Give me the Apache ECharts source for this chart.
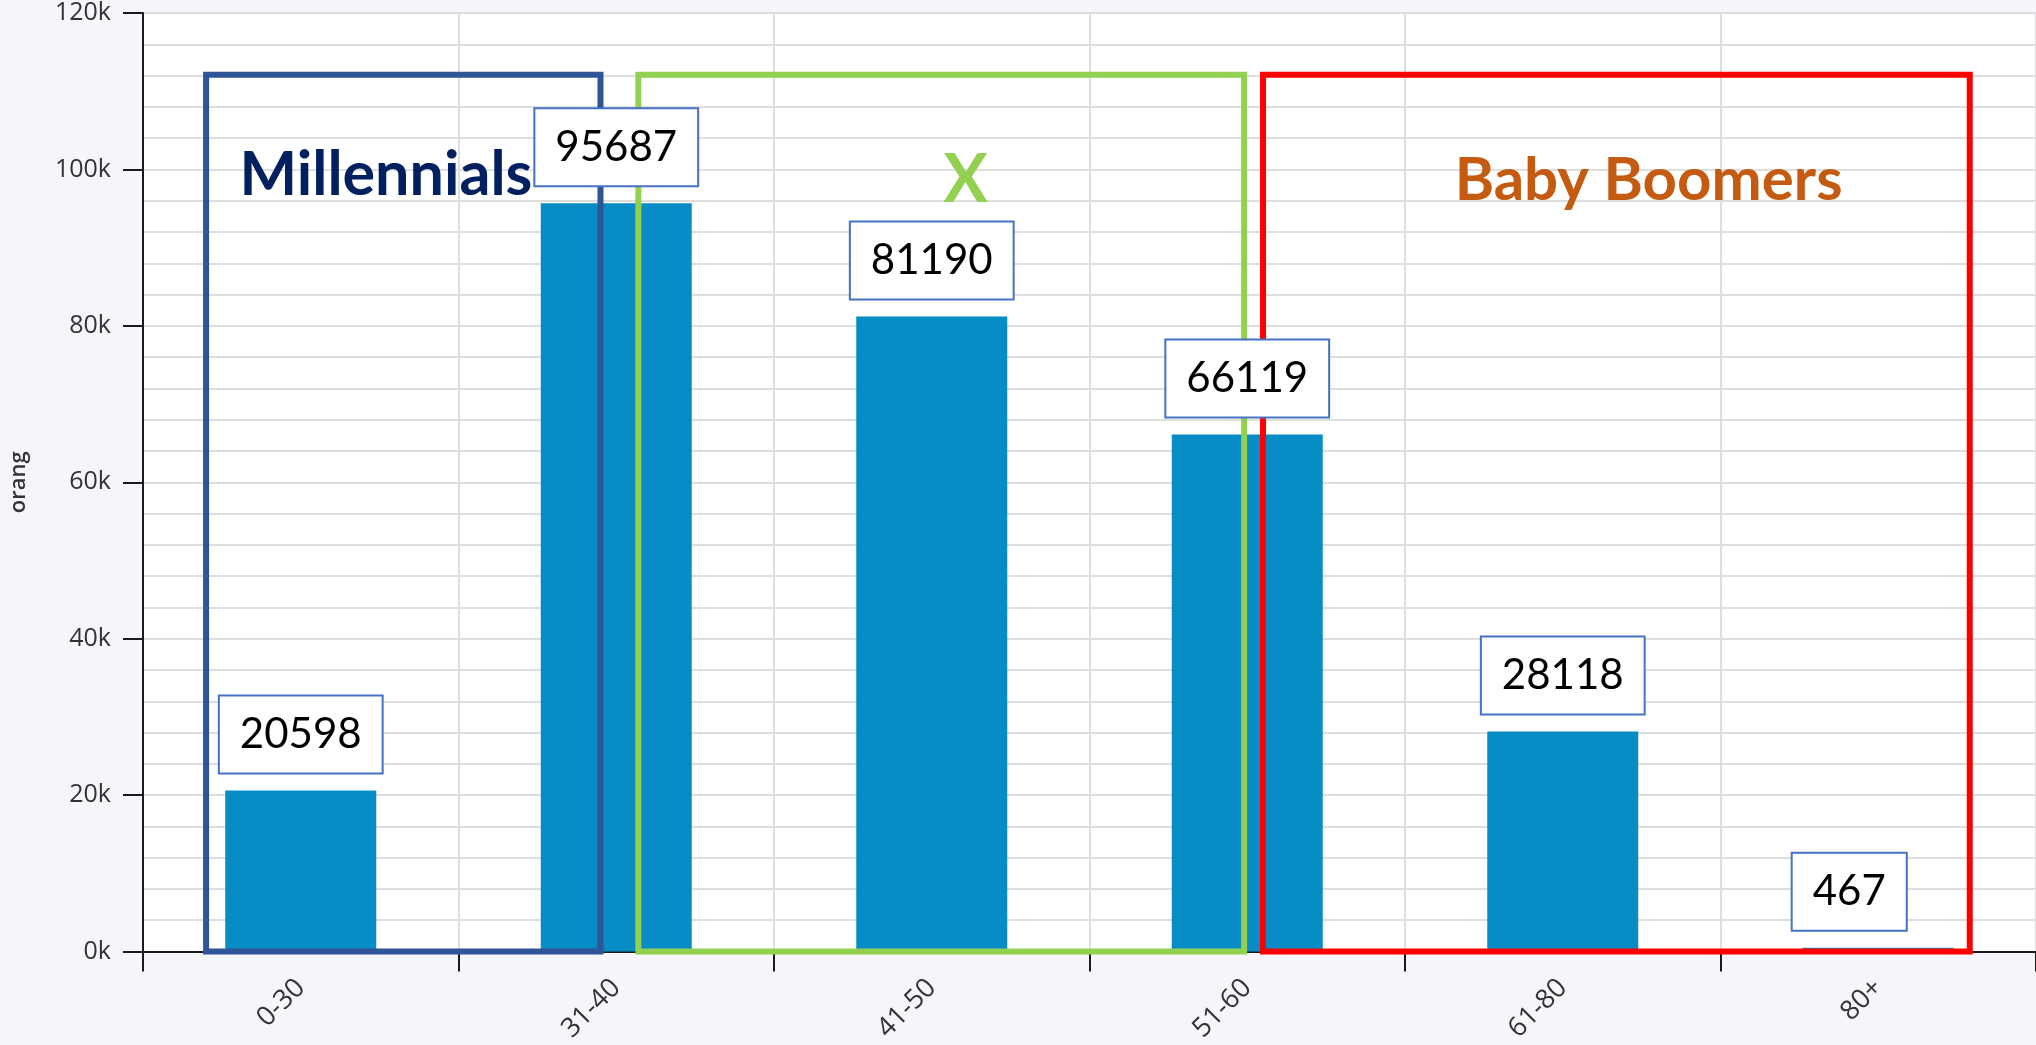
<!DOCTYPE html>
<html>
<head>
<meta charset="utf-8">
<title>orang per age group</title>
<script src="https://cdn.jsdelivr.net/npm/echarts@6/dist/echarts.min.js"></script>
<style>
  html, body { margin: 0; padding: 0; background: #f5f5fa; }
  #chart { width: 2036px; height: 1045px; }
</style>
</head>
<body>
<div id="chart"></div>
<script>
// Age groups and head counts
const ageGroups = ['0-30', '31-40', '41-50', '51-60', '61-80', '80+'];
const population = [20598, 95687, 81190, 66119, 28118, 467];

// Value axis range
const yMax = 120000;
const yStep = 20000;

// Generation brackets, in category units (band i spans i-0.5 .. i+0.5)
const generations = ['Millennials', 'X', 'Baby Boomers'];
const genStart = [-0.30, 1.07, 3.05];
const genEnd = [0.95, 2.99, 5.29];
const genTop = [112100, 112100, 112100];
const genTitleX = [0.27, 2.107, 4.272];
const genTitleY = [99300, 98500, 98600];

// Styling
const barColor = '#078CC6';
const genBoxColors = ['#2F5597', '#92D050', '#FF0000'];
const genTextColors = ['#002060', '#92D050', '#C55A11'];
const genTextSizes = [61, 66, 60];
const labelNudge = { 5: [-29, 0] };

const chart = echarts.init(document.getElementById('chart'), null, { renderer: 'canvas' });

const genData = generations.map((g, i) => [genStart[i], genEnd[i], 0, genTop[i], genTitleX[i], genTitleY[i]]);
const labelData = population.map((v, i) => labelNudge[i] ? { value: v, label: { offset: labelNudge[i] } } : v);

const axisFont = { fontFamily: 'Open Sans', fontSize: 25, color: '#333' };

chart.setOption({
  backgroundColor: '#f5f5fa',
  animation: false,
  grid: {
    left: 137, top: 13, width: 1908, height: 954,
    show: true, backgroundColor: '#ffffff', borderWidth: 0
  },
  xAxis: [
    {
      type: 'category',
      data: ageGroups,
      boundaryGap: true,
      axisLine: { onZero: false, lineStyle: { color: '#1a1a1a', width: 2 } },
      axisTick: { show: true, length: 20, interval: 0, lineStyle: { color: '#1a1a1a', width: 2 } },
      axisLabel: Object.assign({ rotate: 45, interval: 0, margin: 32 }, axisFont, { fontSize: 27 }),
      splitLine: { show: true, interval: 0, lineStyle: { color: '#dedede', width: 2 } }
    },
    {
      type: 'value', min: -0.5, max: 5.5, show: false
    }
  ],
  yAxis: {
    type: 'value',
    min: 0, max: yMax, interval: yStep,
    name: 'orang',
    nameLocation: 'middle',
    nameGap: 113,
    nameTextStyle: { fontFamily: 'Open Sans', fontWeight: 600, fontSize: 22, color: '#333' },
    axisLine: { show: true, onZero: false, lineStyle: { color: '#1a1a1a', width: 2 } },
    axisTick: { show: true, length: 20, lineStyle: { color: '#1a1a1a', width: 2 } },
    axisLabel: Object.assign({ margin: 32, formatter: v => (v / 1000) + 'k' }, axisFont),
    splitLine: { show: true, lineStyle: { color: '#dedede', width: 2 } },
    minorTick: { show: false, splitNumber: 5 },
    minorSplitLine: { show: true, lineStyle: { color: '#dedede', width: 2 } }
  },
  series: [
    {
      name: 'orang',
      type: 'bar',
      data: population,
      barWidth: 151,
      z: 2,
      itemStyle: { color: barColor }
    },
    {
      name: 'generations',
      type: 'custom',
      xAxisIndex: 1,
      yAxisIndex: 0,
      z: 3,
      silent: true,
      data: genData,
      renderItem: function (params, api) {
        const i = params.dataIndex;
        const tl = api.coord([api.value(0), api.value(3)]);
        const br = api.coord([api.value(1), api.value(2)]);
        const tp = api.coord([api.value(4), api.value(5)]);
        return {
          type: 'group',
          children: [
            {
              type: 'rect',
              shape: { x: tl[0], y: tl[1], width: br[0] - tl[0], height: br[1] - tl[1] },
              style: { fill: 'none', stroke: genBoxColors[i], lineWidth: 6 }
            },
            {
              type: 'text',
              x: tp[0], y: tp[1],
              style: {
                text: generations[i],
                fill: genTextColors[i],
                fontFamily: 'Lato',
                fontWeight: 'bold',
                fontSize: genTextSizes[i],
                align: 'center',
                verticalAlign: 'middle'
              }
            }
          ]
        };
      }
    },
    {
      // value callouts, drawn above the generation brackets
      name: 'orang-label',
      type: 'bar',
      data: labelData,
      barWidth: 151,
      barGap: '-100%',
      z: 5,
      silent: true,
      itemStyle: { color: 'transparent' },
      label: {
        show: true,
        position: 'top',
        distance: 18,
        color: '#000',
        fontFamily: 'Lato',
        fontSize: 42,
        lineHeight: 46,
        backgroundColor: '#ffffff',
        borderColor: '#4472C4',
        borderWidth: 2,
        padding: [15, 20, 15, 20]
      }
    }
  ]
});
</script>
</body>
</html>
